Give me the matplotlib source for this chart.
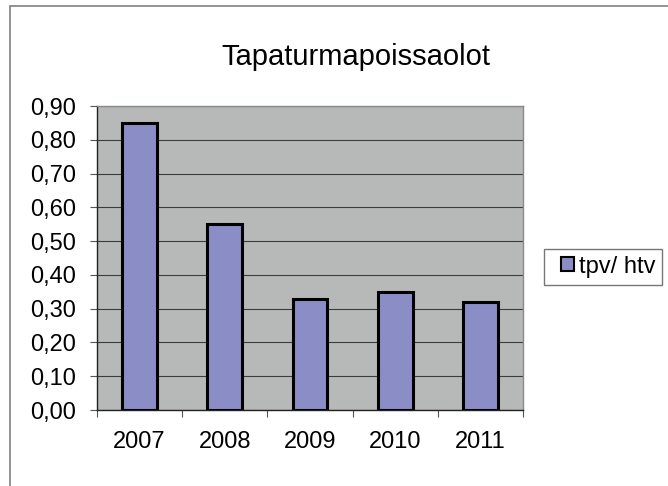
import matplotlib
matplotlib.use("Agg")
import matplotlib.pyplot as plt
from matplotlib.patches import Rectangle
from matplotlib.legend_handler import HandlerPatch
from matplotlib.ticker import FuncFormatter, MultipleLocator

years = ["2007", "2008", "2009", "2010", "2011"]
values = [0.85, 0.55, 0.33, 0.35, 0.32]
series_name = "tpv/ htv"
title = "Tapaturmapoissaolot"
bar_color = "#8B8EC6"

plt.rcParams['font.family'] = ['Liberation Sans', 'DejaVu Sans']


class SquareHandler(HandlerPatch):
    # small square pushed to the right end of the handle box, like Excel
    def create_artists(self, legend, orig_handle, xdescent, ydescent,
                       width, height, fontsize, trans):
        side = 9.5
        p = Rectangle((width - side - xdescent, (height - side) / 2 - ydescent + 0.5),
                      side, side, facecolor=orig_handle.get_facecolor(),
                      edgecolor="black", linewidth=1.5, transform=trans)
        return [p]


fig = plt.figure(figsize=(6.68, 4.86), dpi=100)
fig.patch.set_facecolor("white")

# outer chart border (only top/left visible in the original crop)
fig.add_artist(Rectangle((10 / 668, -0.1), 1.2, 1.1 - 6 / 486,
                         transform=fig.transFigure, fill=False,
                         edgecolor="#808080", linewidth=1.2))

ax = fig.add_axes([97 / 668, 1 - 410 / 486, 426 / 668, 304 / 486])
ax.set_facecolor("#B6B9B8")

x = range(len(years))
ax.bar(x, values, width=0.41, color=bar_color, edgecolor="black",
       linewidth=2.2, zorder=3)

ax.set_xlim(-0.5, len(years) - 0.5)
ax.set_ylim(0, 0.9)
ax.yaxis.set_major_locator(MultipleLocator(0.1))
ax.yaxis.set_major_formatter(FuncFormatter(lambda v, p: f"{v:.2f}".replace(".", ",")))
ax.grid(axis="y", color="#3c3c3c", linewidth=0.8, zorder=1)
ax.set_axisbelow(True)

ax.set_xticks([i - 0.5 for i in range(len(years) + 1)])
ax.set_xticklabels([])
ax.set_xticks(list(x), minor=True)
ax.set_xticklabels(years, minor=True)
ax.tick_params(axis="x", which="major", length=5, width=0.8, color="#555555")
ax.tick_params(axis="x", which="minor", length=0, pad=15, labelsize=17)
ax.tick_params(axis="y", length=5, width=0.8, color="#555555", pad=10, labelsize=17)

for side in ["top", "right"]:
    ax.spines[side].set_color("#8a8a8a")
    ax.spines[side].set_linewidth(1.0)
for side in ["left", "bottom"]:
    ax.spines[side].set_color("#222222")
    ax.spines[side].set_linewidth(1.0)

fig.text(356 / 668, 1 - 57 / 486, title, ha="center", va="center", fontsize=21)

proxy = Rectangle((0, 0), 1, 1, facecolor=bar_color)
leg = fig.legend([proxy], [series_name], loc="center left",
                 bbox_to_anchor=(544 / 668, 1 - 267 / 486),
                 fontsize=17, frameon=True, fancybox=False, handlelength=1.0,
                 handletextpad=0.2, borderpad=0.28, borderaxespad=0,
                 handler_map={proxy: SquareHandler()})
leg.get_frame().set_edgecolor("#555555")
leg.get_frame().set_linewidth(1.0)

fig.savefig("out.png", dpi=100)
